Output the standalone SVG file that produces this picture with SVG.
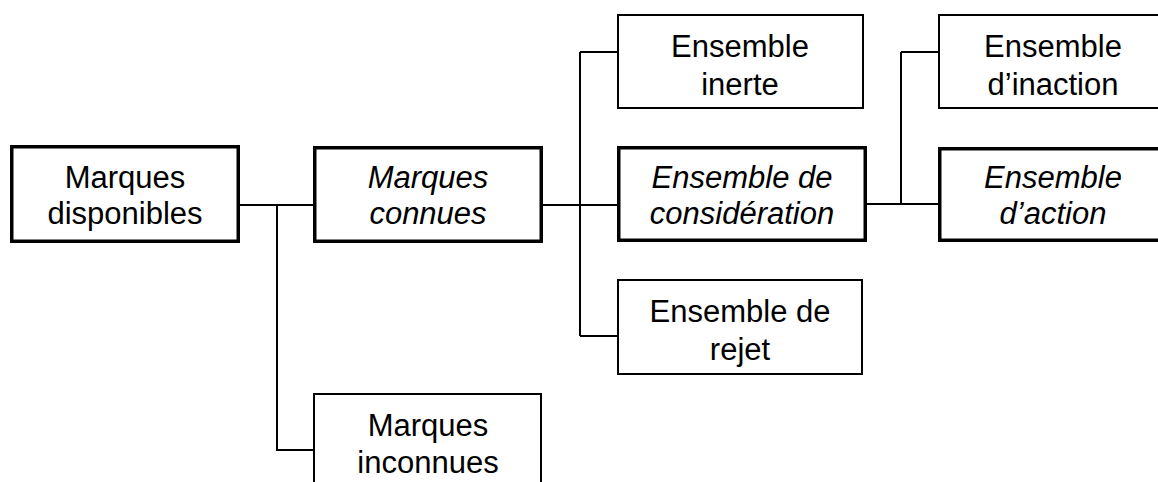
<svg xmlns="http://www.w3.org/2000/svg" width="1158" height="482" viewBox="0 0 1158 482">
<style>
.box{fill:#fff;stroke:#000}
.thick{stroke-width:3.5}
.thin{stroke-width:2}
.t{font-family:"Liberation Sans",Arial,sans-serif;font-size:31px;fill:#000;text-anchor:middle}
.i{font-style:italic}
.c{fill:none;stroke:#000;stroke-width:2}
</style>
<rect width="1158" height="482" fill="#fff"/>
<g id="connectors">
<path class="c" d="M240 205H313M277 205V450H313"/>
<path class="c" d="M543 205H617M580 52V336M580 52H617M580 336H617"/>
<path class="c" d="M867 204H938M901 52V204M901 52H938"/>
</g>
<g id="marques-disponibles">
<rect class="box thick" x="11.75" y="146.75" width="226.5" height="94.5"/>
<text class="t" x="125" y="188">Marques</text>
<text class="t" x="125" y="224">disponibles</text>
</g>
<g id="marques-connues">
<rect class="box thick" x="314.75" y="147.75" width="226.5" height="93.5"/>
<text class="t i" x="428" y="188">Marques</text>
<text class="t i" x="428" y="224">connues</text>
</g>
<g id="ensemble-inerte">
<rect class="box thin" x="618" y="15" width="245" height="93"/>
<text class="t" x="740" y="57">Ensemble</text>
<text class="t" x="740" y="95">inerte</text>
</g>
<g id="ensemble-consideration">
<rect class="box thick" x="618.75" y="147.75" width="246.5" height="92.5"/>
<text class="t i" x="742" y="188">Ensemble de</text>
<text class="t i" x="742" y="224">considération</text>
</g>
<g id="ensemble-rejet">
<rect class="box thin" x="618" y="280" width="244" height="94"/>
<text class="t" x="740" y="322">Ensemble de</text>
<text class="t" x="740" y="360">rejet</text>
</g>
<g id="ensemble-inaction">
<rect class="box thin" x="939" y="15" width="230" height="93"/>
<text class="t" x="1053" y="57">Ensemble</text>
<text class="t" x="1053" y="95">d’inaction</text>
</g>
<g id="ensemble-action">
<rect class="box thick" x="939.75" y="148.75" width="230" height="91.5"/>
<text class="t i" x="1053" y="188">Ensemble</text>
<text class="t i" x="1053" y="224">d’action</text>
</g>
<g id="marques-inconnues">
<rect class="box thin" x="314" y="394" width="227" height="100"/>
<text class="t" x="428" y="436">Marques</text>
<text class="t" x="428" y="473">inconnues</text>
</g>
</svg>
